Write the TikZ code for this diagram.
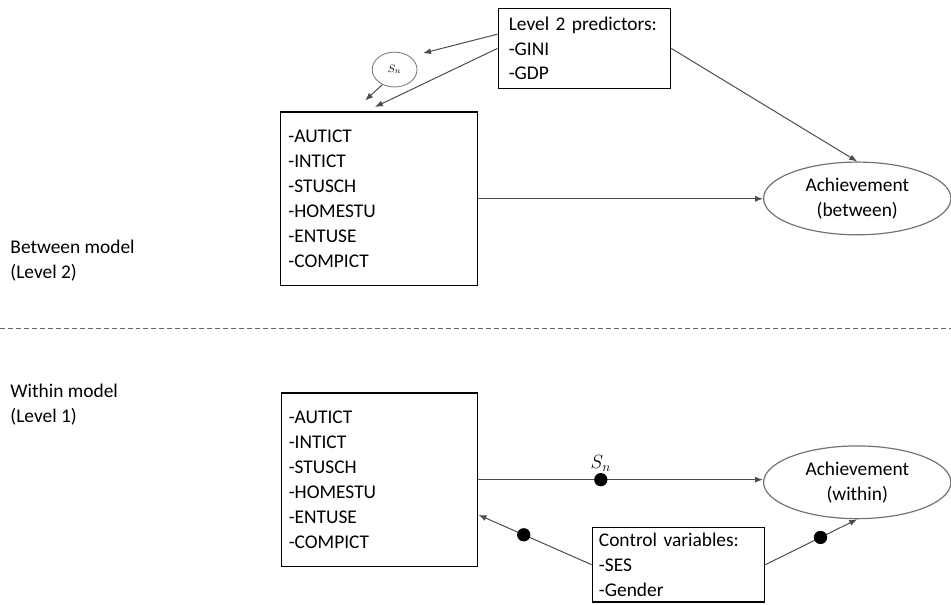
\documentclass[tikz,border=0pt]{standalone}
\usepackage{amsmath}
\usepackage{fontspec}
\setmainfont{Carlito}
\usetikzlibrary{shapes.geometric,arrows.meta}

\begin{document}
\begin{tikzpicture}[
                every node/.style={font=\fontsize{14.6}{18.75}\selectfont},
                varbox/.style={rectangle, draw, line width=1pt, align=left, inner ysep=0pt},
                achieve/.style={ellipse, draw=black!55, line width=0.9pt, minimum width=141pt, minimum height=54.75pt, inner sep=0pt, align=center},
                conn/.style={draw=black!70, line width=0.75pt, -{Latex[length=6pt,width=4.5pt]}},
                dot/.style={circle, fill=black, minimum size=10pt, inner sep=0pt}]
                \useasboundingbox (0,0) rectangle (25.16,15.98);

                \node[varbox, text width=113.75pt, inner xsep=8pt, minimum height=60pt] (lvltwo) at (15.46,14.70) {Level 2 predictors:\\-GINI\\-GDP};
                \node[ellipse, draw=black!55, line width=0.6pt, minimum width=33.75pt, minimum height=26.25pt, inner sep=0pt, font=\fontsize{8}{9}\selectfont] (sn) at (10.44,14.14) {$S_n$};
                \node[varbox, text width=136.6pt, inner xsep=5.7pt, minimum height=130.7pt] (upbox) at (10.03,10.72) {-AUTICT\\-INTICT\\-STUSCH\\-HOMESTU\\-ENTUSE\\-COMPICT};
                \node[achieve] (achb) at (22.68,10.73) {Achievement\\(between)};
                \node[anchor=west, align=left, inner sep=0pt] (betw) at (0.27,9.08) {Between model\\(Level 2)};

                \draw[black!60, line width=0.75pt, dash pattern=on 3.75pt off 2.25pt] (0,7.28) -- (25.16,7.28);

                \node[anchor=west, align=left, inner sep=0pt] (with) at (0.27,5.27) {Within model\\(Level 1)};
                \node[varbox, text width=136.6pt, inner xsep=5.7pt, minimum height=130.7pt] (lowbox) at (10.04,3.29) {-AUTICT\\-INTICT\\-STUSCH\\-HOMESTU\\-ENTUSE\\-COMPICT};
                \node[achieve] (achw) at (22.68,3.22) {Achievement\\(within)};
                \node[varbox, text width=119.75pt, inner xsep=5pt, minimum height=56.25pt] (ctrl) at (17.95,1.04) {Control variables:\\-SES\\-Gender};

                \draw[conn, shorten >=10pt] ([yshift=10.7pt]lvltwo.west) -- (sn.40);
                \draw[conn, shorten >=7.6pt] (lvltwo.west) -- ([xshift=-10pt]upbox.north);
                \draw[conn, shorten >=12pt] (sn.231) -- ([xshift=-19.4pt]upbox.north);
                \draw[conn] (lvltwo.east) -- (achb.north);
                \draw[conn] (upbox.east) -- (upbox.east -| achb.west);

                \draw[conn] (lowbox.east) -- (lowbox.east -| achw.west) node[dot, pos=0.43, label={[label distance=-3pt]above:$S_n$}] {};
                \draw[conn] (ctrl.west) -- ([yshift=-26.5pt]lowbox.east) node[dot, pos=0.6] {};
                \draw[conn] (ctrl.east) -- (achw.south) node[dot, pos=0.6] {};
            \end{tikzpicture}
\end{document}
